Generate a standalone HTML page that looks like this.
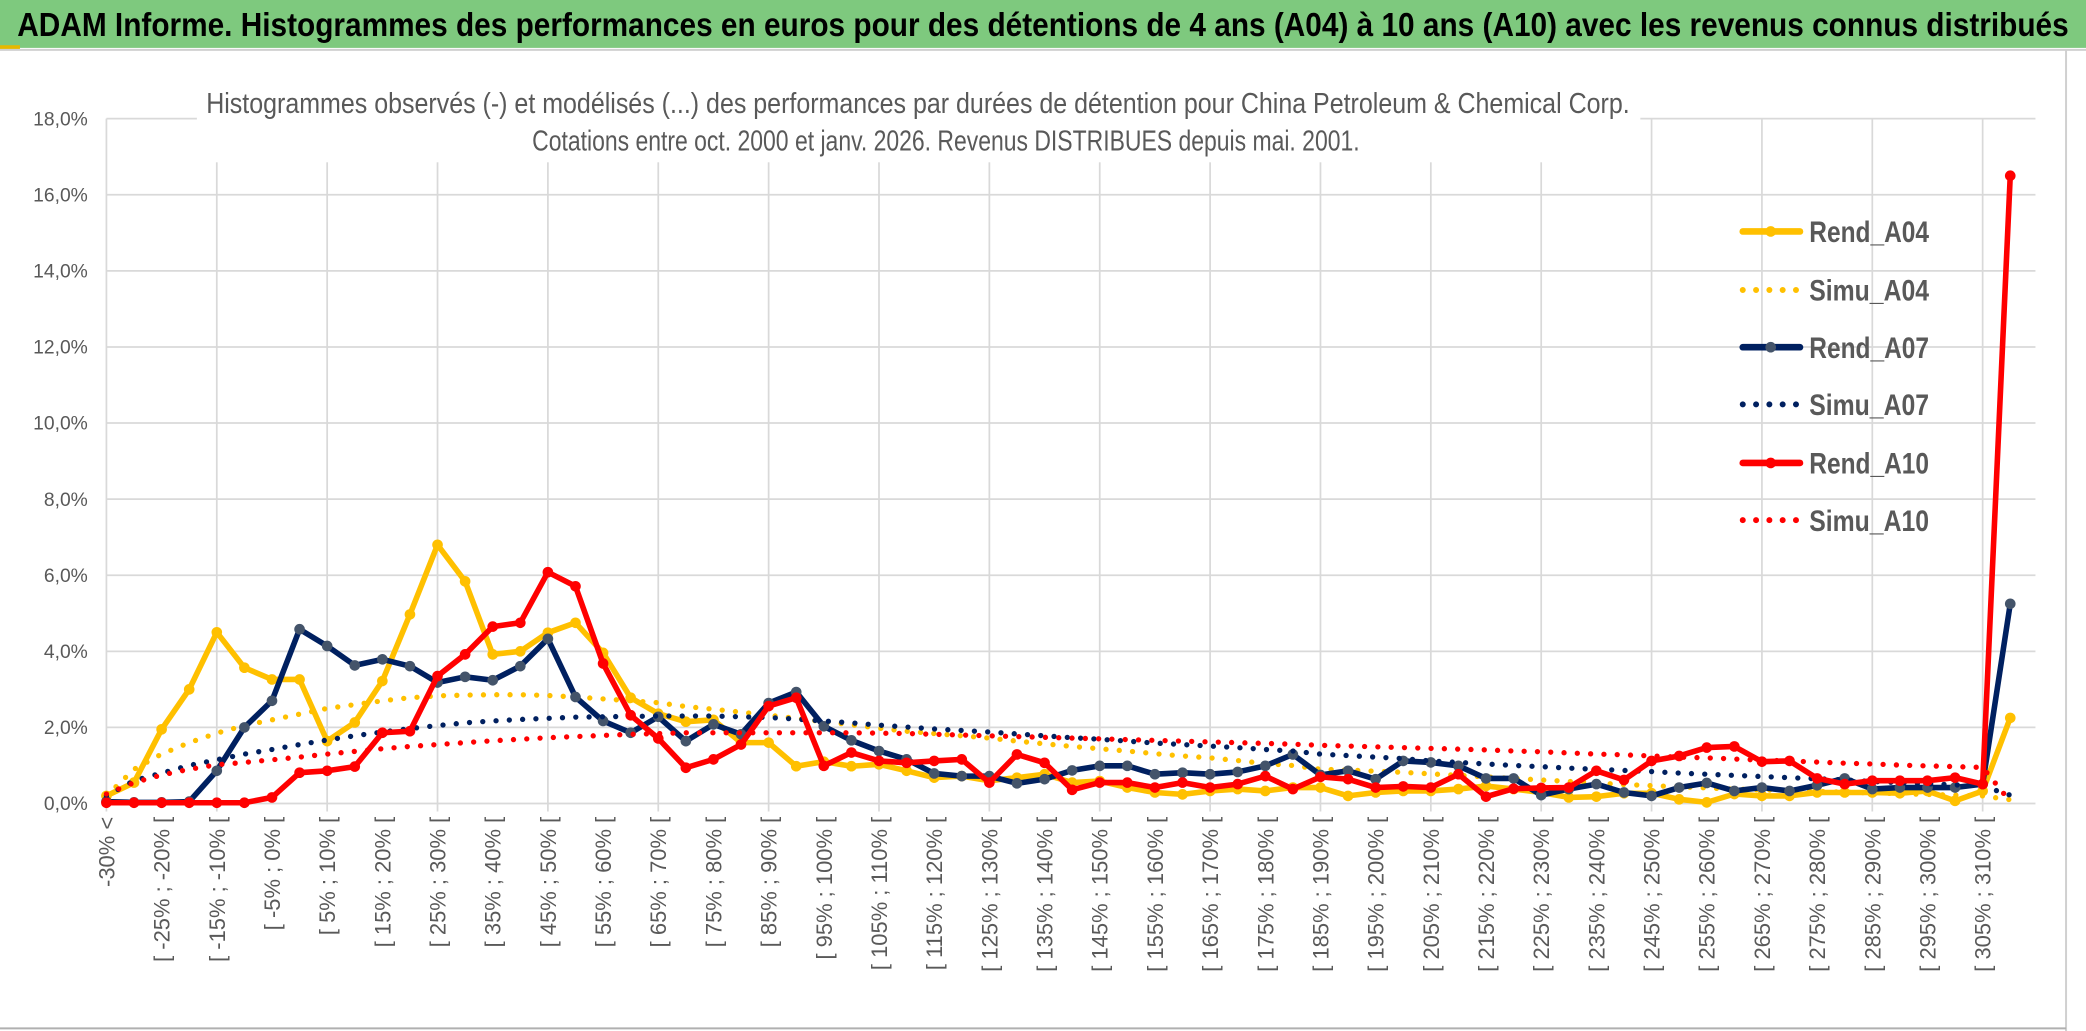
<!DOCTYPE html>
<html><head><meta charset="utf-8"><style>
html,body{margin:0;padding:0;background:#fff;width:2086px;height:1031px;overflow:hidden}
svg{display:block}
text{font-family:"Liberation Sans",sans-serif}
</style></head><body>
<svg id="chart" width="2086" height="1031" viewBox="0 0 1568 775" preserveAspectRatio="none" xmlns="http://www.w3.org/2000/svg">
<rect x="0" y="0" width="1568" height="775" fill="#fff"/>
<rect x="0" y="0" width="1568" height="36" fill="#7ec97e"/>
<rect x="0" y="34" width="15" height="3" fill="#e6b800"/>
<line x1="0" y1="37.5" x2="1568" y2="37.5" stroke="#d0d0d0" stroke-width="1.5"/>
<text x="13" y="27" font-size="25" font-weight="bold" fill="#000" textLength="1542" lengthAdjust="spacingAndGlyphs">ADAM Informe. Histogrammes des performances en euros pour des détentions de 4 ans (A04) à 10 ans (A10) avec les revenus connus distribués</text>
<line x1="1553" y1="38" x2="1553" y2="775" stroke="#d0d0d0" stroke-width="1.5"/>
<line x1="0" y1="773" x2="1553" y2="773" stroke="#b0b0b0" stroke-width="1.5"/>
<g id="grid"></g>
<rect x="148" y="58" width="1085" height="64" fill="#fff"/>
<text x="155" y="85" font-size="21.5" fill="#595959" textLength="1070" lengthAdjust="spacingAndGlyphs">Histogrammes observés (-) et modélisés (...) des performances par durées de détention pour China Petroleum &amp; Chemical Corp.</text>
<text x="400" y="113" font-size="21.5" fill="#595959" textLength="622" lengthAdjust="spacingAndGlyphs">Cotations entre oct. 2000 et janv. 2026. Revenus DISTRIBUES depuis mai. 2001.</text>
<g id="axes"></g>
<g id="series"></g>
<g id="legend"></g>
</svg>
<script>
const yTicks = [0,2,4,6,8,10,12,14,16,18];
const rendA04 = [0.2,0.55,1.95,3.0,4.5,3.57,3.26,3.26,1.64,2.13,3.22,4.97,6.8,5.84,3.92,4.0,4.49,4.75,3.96,2.78,2.36,
2.15,2.2,1.6,1.6,0.98,1.1,0.98,1.03,0.86,0.68,0.72,0.6,0.68,0.77,0.55,0.59,0.42,0.29,0.24,0.33,0.38,0.33,0.42,0.42,
0.2,0.29,0.33,0.33,0.38,0.46,0.38,0.29,0.16,0.18,0.27,0.27,0.11,0.03,0.25,0.2,0.2,0.29,0.29,0.29,0.27,0.33,0.07,0.33,2.25];
const rendA07 = [0.05,0.03,0.03,0.05,0.86,2.0,2.7,4.58,4.14,3.63,3.79,3.61,3.18,3.33,3.24,3.61,4.33,2.8,2.17,1.86,2.28,
1.64,2.08,1.82,2.64,2.93,2.03,1.66,1.38,1.16,0.79,0.72,0.72,0.53,0.64,0.87,0.99,0.99,0.77,0.81,0.77,0.83,0.99,1.29,0.75,
0.86,0.64,1.12,1.08,0.99,0.66,0.66,0.22,0.38,0.51,0.29,0.2,0.42,0.54,0.33,0.42,0.33,0.48,0.66,0.38,0.42,0.42,0.42,0.51,5.25];
const rendA10 = [0.02,0.02,0.02,0.02,0.02,0.02,0.16,0.81,0.86,0.97,1.86,1.9,3.35,3.92,4.65,4.75,6.08,5.71,3.68,2.32,1.71,
0.94,1.16,1.55,2.56,2.78,0.99,1.34,1.12,1.07,1.12,1.16,0.55,1.29,1.07,0.36,0.55,0.55,0.42,0.55,0.42,0.51,0.72,0.38,0.7,
0.64,0.42,0.45,0.42,0.77,0.18,0.39,0.41,0.42,0.86,0.62,1.12,1.25,1.47,1.5,1.1,1.12,0.66,0.51,0.6,0.6,0.6,0.68,0.51,16.5];
const simuA04 = [0.2,0.9,1.3,1.6,1.85,2.05,2.2,2.35,2.5,2.6,2.7,2.78,2.83,2.85,2.86,2.86,2.84,2.8,2.75,2.7,2.65,
2.55,2.48,2.4,2.32,2.24,2.15,2.07,1.98,1.9,1.84,1.78,1.72,1.64,1.57,1.5,1.44,1.38,1.31,1.25,1.2,1.13,1.05,1.0,0.9,
0.88,0.85,0.82,0.78,0.74,0.7,0.66,0.62,0.58,0.54,0.5,0.47,0.44,0.41,0.38,0.36,0.34,0.32,0.3,0.28,0.26,0.24,0.22,0.2,0.1];
const simuA07 = [0.2,0.6,0.8,1.0,1.15,1.3,1.42,1.55,1.67,1.78,1.88,1.97,2.05,2.12,2.17,2.21,2.24,2.27,2.28,2.29,2.3,
2.3,2.3,2.28,2.26,2.22,2.17,2.12,2.06,2.01,1.96,1.92,1.88,1.83,1.78,1.73,1.69,1.64,1.59,1.55,1.51,1.47,1.42,1.38,1.3,
1.26,1.22,1.18,1.12,1.08,1.04,1.0,0.97,0.93,0.9,0.87,0.84,0.8,0.77,0.74,0.71,0.68,0.65,0.62,0.58,0.55,0.52,0.49,0.46,0.22];
const simuA10 = [0.25,0.55,0.75,0.9,1.02,1.08,1.15,1.22,1.3,1.37,1.44,1.5,1.55,1.6,1.65,1.69,1.73,1.76,1.79,1.82,1.84,
1.86,1.86,1.86,1.86,1.86,1.86,1.86,1.85,1.84,1.82,1.8,1.78,1.76,1.74,1.72,1.7,1.68,1.66,1.64,1.62,1.6,1.58,1.56,1.53,
1.51,1.49,1.47,1.45,1.43,1.41,1.38,1.36,1.33,1.3,1.28,1.25,1.22,1.2,1.17,1.14,1.12,1.09,1.06,1.04,1.01,0.99,0.97,0.95,0.05];
const categories = ["-30% <"];
for (let k = 1; k < 70; k++) { const a = -30 + 5*(k-1); categories.push("[ " + a + "% ; " + (a+5) + "% ["); }

const NS = "http://www.w3.org/2000/svg";
const X0 = 80, STEP = 20.74, Y0 = 604, YPER = 28.6;
function xPos(i){ return X0 + i*STEP; }
function yPos(v){ return Y0 - v*YPER; }
function mk(tag, attrs, parent){ const e = document.createElementNS(NS, tag); for (const k in attrs) e.setAttribute(k, attrs[k]); parent.appendChild(e); return e; }

const grid = document.getElementById('grid');
const axes = document.getElementById('axes');
const xEnd = 1530;
yTicks.forEach(function(t){
  const l = mk('line', {x1:X0, x2:xEnd, y1:yPos(t), y2:yPos(t), stroke:'#d9d9d9', 'stroke-width':1.3}, grid);
  
  
  const tx = mk('text', {x:66, y:yPos(t)+5, 'font-size':14.5, fill:'#595959', 'text-anchor':'end'}, axes);
  tx.textContent = t.toFixed(1).replace('.', ',') + '%';
  
  
});
for (let i = 0; i < categories.length; i += 4) {
  const l = mk('line', {x1:xPos(i), x2:xPos(i), y1:yPos(18), y2:Y0+6, stroke:'#d9d9d9', 'stroke-width':1.3}, grid);
  
  
}
categories.forEach(function(c, i){
  if (i % 2 === 1) return;
  const x = xPos(i) + 6, y = 614;
  const tx = mk('text', {x:x, y:y, 'font-size':16.5, fill:'#595959', 'text-anchor':'end', transform:'rotate(-90 ' + x + ' ' + y + ')'}, axes);
  tx.textContent = c;
  
  
});

const seriesG = document.getElementById('series');
function pts(arr){ return arr.map(function(v,i){ return xPos(i).toFixed(2) + ',' + yPos(v).toFixed(2); }).join(' '); }
function drawSimu(arr, color, name){
  const p = mk('polyline', {points:pts(arr), fill:'none', stroke:color, 'stroke-width':4, 'stroke-linecap':'round', 'stroke-dasharray':'0 10'}, seriesG);
  
  
}
function drawRend(arr, color, mcolor, name){
  const p = mk('polyline', {points:pts(arr), fill:'none', stroke:color, 'stroke-width':4.2, 'stroke-linejoin':'round'}, seriesG);
  
  
  arr.forEach(function(v,i){
    const c = mk('circle', {cx:xPos(i), cy:yPos(v), r:4, fill:mcolor}, seriesG);
    
    
  });
}
drawRend(rendA04, '#ffc000', '#ffc000', 'rend-a04-line');
drawSimu(simuA04, '#ffc000', 'simu-a04-line');
drawRend(rendA07, '#002060', '#44546a', 'rend-a07-line');
drawSimu(simuA07, '#002060', 'simu-a07-line');
drawRend(rendA10, '#ff0000', '#ff0000', 'rend-a10-line');
drawSimu(simuA10, '#ff0000', 'simu-a10-line');

const legend = document.getElementById('legend');
const legendNames = ['Rend_A04','Simu_A04','Rend_A07','Simu_A07','Rend_A10','Simu_A10'];
const legendColors = ['#ffc000','#ffc000','#002060','#002060','#ff0000','#ff0000'];
const legendMarks = ['#ffc000',null,'#44546a',null,'#ff0000',null];
const legendY = [174,218,261,304,348,391];
legendNames.forEach(function(n, k){
  const y = legendY[k];
  const g = mk('g', {}, legend);
  
  
  if (legendMarks[k]) {
    mk('line', {x1:1310, x2:1353, y1:y, y2:y, stroke:legendColors[k], 'stroke-width':5, 'stroke-linecap':'round'}, g);
    mk('circle', {cx:1331, cy:y, r:4, fill:legendMarks[k]}, g);
  } else {
    mk('line', {x1:1310, x2:1356, y1:y, y2:y, stroke:legendColors[k], 'stroke-width':4.5, 'stroke-linecap':'round', 'stroke-dasharray':'0 10'}, g);
  }
  const t = mk('text', {x:1360, y:y+8, 'font-size':22, 'font-weight':'bold', fill:'#595959', textLength:90, lengthAdjust:'spacingAndGlyphs'}, g);
  t.textContent = n;
});
</script>
</body></html>
